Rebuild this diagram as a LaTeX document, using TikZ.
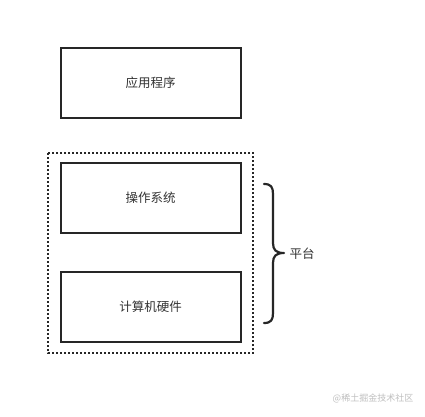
\documentclass[tikz,border=0pt]{standalone}
\usepackage{fontspec}
\setmainfont{Noto Sans CJK SC}
\begin{document}
\begin{tikzpicture}[x=1pt,y=-1pt,
  layerbox/.style={draw=black!85,line width=2pt,minimum width=180pt,minimum height=70pt,inner sep=0pt,font=\fontsize{12.5}{14}\selectfont,text=black!80},
  dotbox/.style={draw=black!85,line width=2pt,dash pattern=on 2pt off 2pt},
  bracestyle/.style={draw=black!85,line width=2.2pt,line cap=round,line join=round}]
\useasboundingbox[fill=white] (0,0) rectangle (425,416);
\node[layerbox] (app) at (150.5,82.5) {应用程序};
\node[layerbox] (os) at (150.5,197.5) {操作系统};
\node[layerbox] (hw) at (150.5,307) {计算机硬件};
\draw[dotbox] (48,153) rectangle (253,353);
\coordinate (btop) at (264,184);
\coordinate (bbot) at (264,323);
\coordinate (bmid) at (284,253);
\draw[bracestyle] (btop) .. controls (271,184) and (273,187) .. (273,194)
  -- (273,243) .. controls (273,250) and (276,253) .. (bmid)
  (bmid) .. controls (276,253) and (273,256) .. (273,263)
  -- (273,313) .. controls (273,320) and (271,323) .. (bbot);
\node[font=\fontsize{12.5}{14}\selectfont,text=black!80] (plat) at (302,254) {平台};
\node[font=\fontsize{9}{10}\selectfont,text=black!25] (wm) at (373,398) {@稀土掘金技术社区};
\end{tikzpicture}
\end{document}
